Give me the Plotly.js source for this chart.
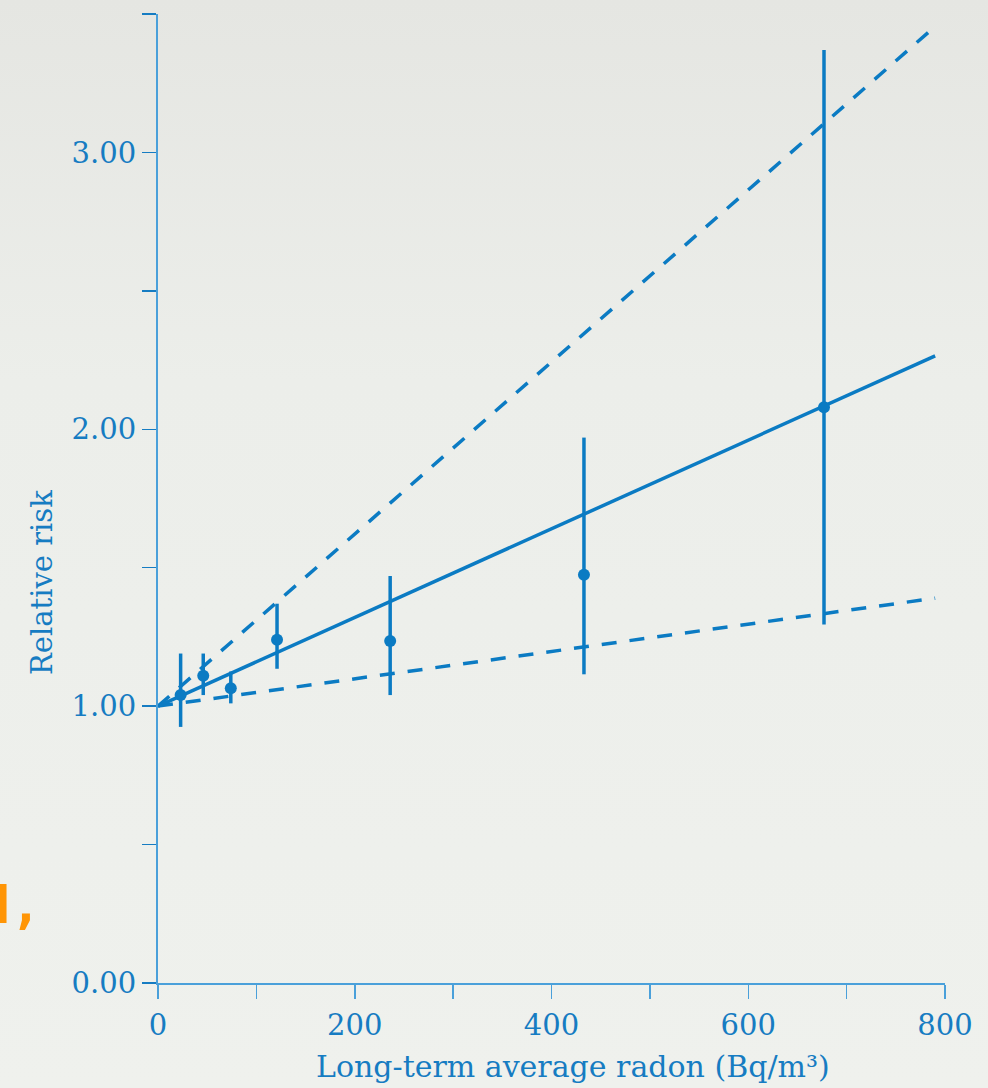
<!DOCTYPE html>
<html>
<head>
<meta charset="utf-8">
<script src="https://cdn.plot.ly/plotly-3.0.1.min.js"></script>
<style>
  html, body { margin: 0; padding: 0; }
  body { width: 988px; height: 1088px; overflow: hidden;
         background: linear-gradient(to bottom, #e5e6e2 0%, #eceeea 35%, #eff1ed 100%); }
  #chart { width: 988px; height: 1088px; }
</style>
</head>
<body>
<div id="chart"></div>
<script>
// Observed relative risk by radon category
const radon = [23, 46, 74, 121, 236, 433, 677];
const relRisk = [1.04, 1.11, 1.065, 1.24, 1.235, 1.475, 2.08];
const ciUpper = [1.19, 1.19, 1.125, 1.37, 1.47, 1.97, 3.37];
const ciLower = [0.925, 1.04, 1.01, 1.135, 1.04, 1.115, 1.295];

// Fitted linear model and its confidence limits
const fitX = [0, 790];
const fitCentral = [1.0, 2.265];
const fitUpperLimit = [1.0, 3.455];
const fitLowerLimit = [1.0, 1.39];

// Tick labels
const xTickVals = [0, 100, 200, 300, 400, 500, 600, 700, 800];
const xTickText = ['0', '', '200', '', '400', '', '600', '', '800'];
const yTickVals = [0, 0.5, 1, 1.5, 2, 2.5, 3, 3.5];
const yTickText = ['0.00', '', '1.00', '', '2.00', '', '3.00', ''];

const blue = '#0b7bc3';
const axisBlue = '#4aa0da';
const textBlue = '#167cc2';
const font = 'DejaVu Serif, Liberation Serif, serif';

const traces = [
  { x: fitX, y: fitUpperLimit, mode: 'lines', type: 'scatter',
    line: { color: blue, width: 3.5, dash: '15px,13px' }, hoverinfo: 'skip' },
  { x: fitX, y: fitLowerLimit, mode: 'lines', type: 'scatter',
    line: { color: blue, width: 3.5, dash: '15px,13px' }, hoverinfo: 'skip' },
  { x: fitX, y: fitCentral, mode: 'lines', type: 'scatter',
    line: { color: blue, width: 3.5 }, hoverinfo: 'skip' },
  { x: radon, y: relRisk, mode: 'markers', type: 'scatter',
    marker: { color: blue, size: 12 },
    error_y: { type: 'data', symmetric: false,
      array: relRisk.map((v, i) => ciUpper[i] - v),
      arrayminus: relRisk.map((v, i) => v - ciLower[i]),
      color: blue, thickness: 3.5, width: 0 } }
];

const layout = {
  width: 988, height: 1088,
  margin: { l: 158, r: 43, t: 14, b: 105 },
  paper_bgcolor: 'rgba(0,0,0,0)',
  plot_bgcolor: 'rgba(0,0,0,0)',
  showlegend: false,
  font: { family: font, color: textBlue, size: 29 },
  xaxis: {
    range: [0, 800], tickmode: 'array', tickvals: xTickVals, ticktext: xTickText,
    showgrid: false, zeroline: false, showline: true, linecolor: axisBlue, linewidth: 2,
    ticks: 'outside', ticklen: 14, tickwidth: 1.5, tickcolor: axisBlue,
    tickfont: { family: font, size: 29, color: textBlue }, ticklabelstandoff: 1
  },
  yaxis: {
    range: [0, 3.5], tickmode: 'array', tickvals: yTickVals, ticktext: yTickText,
    showgrid: false, zeroline: false, showline: true, linecolor: axisBlue, linewidth: 2,
    ticks: 'outside', ticklen: 14, tickwidth: 1.5, tickcolor: textBlue,
    tickfont: { family: font, size: 29, color: textBlue }, ticklabelstandoff: 0
  },
  annotations: [
    { text: 'Long-term average radon (Bq/m³)', xref: 'paper', yref: 'paper',
      x: 0.5273, y: -0.0857, xanchor: 'center', yanchor: 'middle', showarrow: false,
      font: { family: font, size: 30, color: textBlue } },
    { text: 'Relative risk', xref: 'paper', yref: 'paper', textangle: -90,
      x: -0.1474, y: 0.4138, xanchor: 'center', yanchor: 'middle', showarrow: false,
      font: { family: font, size: 29, color: textBlue } },
    { text: '<b>d,</b>', xref: 'paper', yref: 'paper',
      x: -0.145, y: 0.08, xanchor: 'right', yanchor: 'middle', showarrow: false,
      font: { family: 'DejaVu Sans Mono, monospace', size: 52, color: '#ff9505' } }
  ]
};

Plotly.newPlot('chart', traces, layout, { displayModeBar: false, staticPlot: true });
</script>
</body>
</html>
